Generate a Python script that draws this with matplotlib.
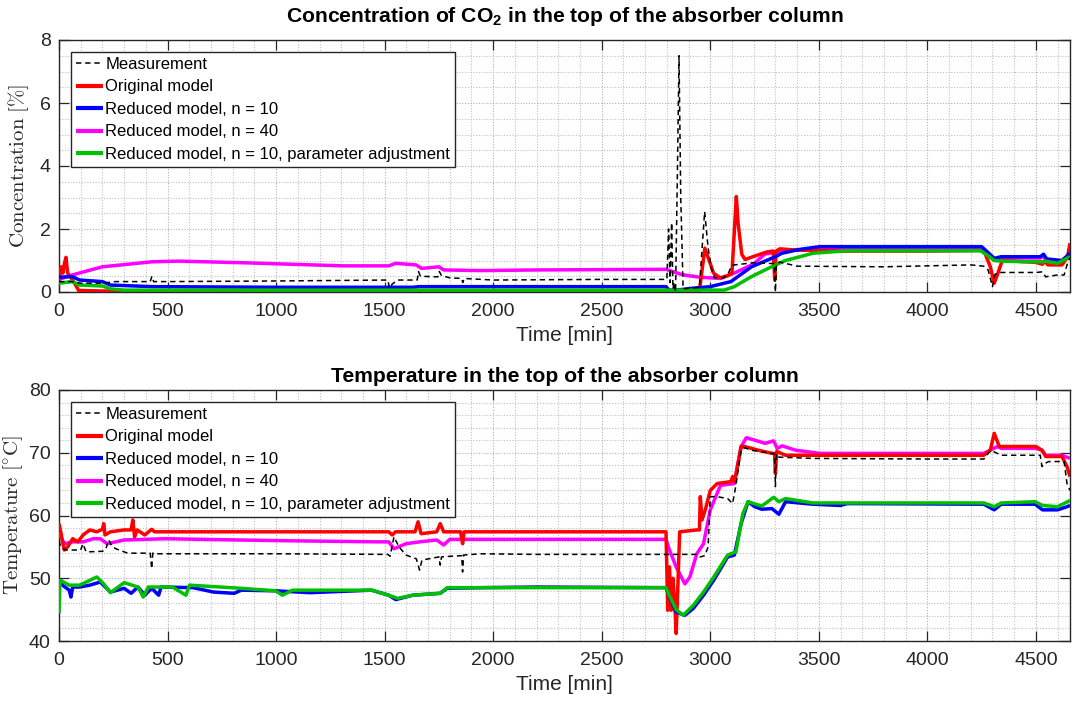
import numpy as np
import matplotlib
matplotlib.use("Agg")
import matplotlib.pyplot as plt
from matplotlib.ticker import MultipleLocator

plt.rcParams['font.family'] = ['Liberation Sans', 'DejaVu Sans']
plt.rcParams['mathtext.fontset'] = 'custom'
plt.rcParams['mathtext.rm'] = 'Liberation Sans'
plt.rcParams['mathtext.bf'] = 'Liberation Sans:bold'

# ---- CO2 concentration in the top of the absorber [%] : (time [min], value)
co2_measurement = [
    (0, 0.33), (60, 0.33), (100, 0.28), (200, 0.28), (260, 0.33), (420, 0.33), (428, 0.5),
    (436, 0.33), (500, 0.33), (1000, 0.35), (1515, 0.38), (1522, 0.12), (1535, 0.25),
    (1560, 0.38), (1650, 0.38), (1656, 0.65), (1665, 0.5), (1745, 0.48), (1752, 0.65),
    (1762, 0.52), (1800, 0.45), (1855, 0.43), (1860, 0.3), (1866, 0.43), (2000, 0.38),
    (2500, 0.4), (2800, 0.4), (2808, 2.0), (2815, 0.3), (2822, 2.2), (2828, 0.1),
    (2834, 0.3), (2840, 0.0), (2848, 3.5), (2856, 7.5), (2864, 3.0), (2875, 0.1),
    (2950, 0.15), (2974, 2.55), (2990, 1.4), (3005, 0.75), (3020, 0.45), (3060, 0.45),
    (3080, 0.55), (3100, 0.85), (3200, 0.93), (3295, 0.9), (3300, 0.0), (3305, 0.9),
    (3320, 0.95), (3400, 0.82), (3800, 0.8), (4200, 0.86), (4260, 0.82), (4280, 0.7),
    (4300, 0.17), (4310, 0.55), (4330, 0.62), (4500, 0.62), (4530, 0.64), (4545, 0.48),
    (4560, 0.5), (4600, 0.54), (4630, 0.54), (4645, 0.9), (4657, 1.1)]
co2_original = [
    (0, 0.35), (10, 0.8), (18, 0.6), (25, 0.9), (32, 1.1), (40, 0.6), (55, 0.45), (70, 0.3),
    (90, 0.05), (200, 0.03), (1000, 0.03), (2000, 0.03), (2800, 0.03), (2950, 0.03),
    (2975, 1.39), (3000, 0.9), (3015, 0.6), (3045, 0.45), (3080, 0.52), (3100, 0.6),
    (3113, 2.2), (3120, 3.03), (3128, 2.2), (3145, 1.2), (3160, 1.03), (3200, 1.13),
    (3260, 1.27), (3290, 1.3), (3297, 0.38), (3303, 1.3), (3320, 1.37), (3400, 1.33),
    (3600, 1.3), (4000, 1.3), (4260, 1.32), (4290, 0.8), (4308, 0.28), (4325, 0.6),
    (4345, 1.0), (4450, 0.96), (4500, 0.94), (4530, 0.88), (4540, 0.98), (4555, 0.86),
    (4620, 0.86), (4645, 1.1), (4657, 1.55)]
co2_reduced10 = [
    (0, 0.47), (60, 0.49), (95, 0.38), (200, 0.33), (237, 0.22), (430, 0.17), (1000, 0.15),
    (1630, 0.15), (1660, 0.17), (2796, 0.17), (2810, 0.06), (2845, 0.06), (2920, 0.12),
    (3000, 0.17), (3095, 0.33), (3190, 0.8), (3300, 1.12), (3330, 1.23), (3410, 1.35),
    (3505, 1.44), (4000, 1.44), (4250, 1.44), (4280, 1.25), (4308, 1.07), (4340, 1.12),
    (4520, 1.12), (4535, 1.2), (4550, 1.05), (4620, 1.0), (4657, 1.23)]
co2_reduced40 = [
    (0, 0.4), (60, 0.54), (200, 0.8), (430, 0.96), (550, 0.98), (840, 0.93), (1310, 0.83),
    (1520, 0.83), (1550, 0.91), (1645, 0.86), (1670, 0.75), (1750, 0.8), (1772, 0.7),
    (1945, 0.68), (2200, 0.7), (2796, 0.72), (2870, 0.55), (2950, 0.47), (3048, 0.43),
    (3110, 0.6), (3200, 0.89), (3250, 1.2), (3330, 1.3), (3410, 1.34), (3505, 1.38),
    (4000, 1.38), (4250, 1.38), (4280, 1.2), (4308, 1.05), (4340, 1.08), (4520, 1.08),
    (4535, 1.12), (4550, 1.0), (4620, 0.95), (4657, 1.2)]
co2_reduced10_adj = [
    (0, 0.28), (60, 0.33), (95, 0.22), (200, 0.19), (237, 0.1), (300, 0.06), (1000, 0.06),
    (2800, 0.06), (3064, 0.06), (3111, 0.17), (3190, 0.49), (3300, 0.86), (3347, 1.0),
    (3473, 1.23), (3630, 1.31), (4245, 1.31), (4280, 1.15), (4308, 1.0), (4340, 0.98),
    (4460, 0.96), (4530, 0.96), (4545, 0.98), (4600, 0.91), (4657, 1.12)]

# ---- Temperature in the top of the absorber [degC] : (time [min], value)
temp_measurement = [
    (0, 56.0), (8, 55.0), (30, 54.5), (100, 54.5), (110, 55.5), (125, 54.2), (200, 54.3),
    (215, 54.6), (229, 56.1), (245, 55.0), (269, 54.6), (316, 54.0), (420, 54.0),
    (427, 51.5), (432, 54.0), (450, 53.9), (1000, 53.9), (1515, 53.8), (1525, 53.5),
    (1543, 56.6), (1566, 55.0), (1598, 53.7), (1646, 53.1), (1661, 51.3), (1672, 52.9),
    (1720, 53.2), (1750, 53.4), (1756, 52.1), (1762, 53.4), (1800, 53.5), (1855, 53.6),
    (1859, 51.0), (1864, 53.7), (1946, 53.9), (2200, 53.8), (2500, 53.8), (2940, 53.8),
    (2954, 53.4), (2975, 53.6), (2990, 55.0), (3000, 63.0), (3032, 63.0), (3080, 62.7),
    (3103, 61.9), (3118, 64.8), (3142, 70.4), (3158, 70.8), (3190, 70.4), (3284, 69.9),
    (3297, 69.8), (3300, 64.6), (3304, 69.8), (3316, 69.3), (3473, 69.1), (4000, 69.0),
    (4260, 69.0), (4292, 70.4), (4340, 69.6), (4497, 69.6), (4520, 69.6), (4528, 67.8),
    (4540, 68.3), (4560, 68.6), (4630, 68.6), (4643, 65.1), (4657, 64.0)]
temp_original = [
    (0, 58.7), (8, 57.4), (24, 54.5), (40, 55.0), (63, 56.3), (87, 55.8), (111, 56.9),
    (142, 57.7), (174, 57.4), (200, 57.8), (206, 58.7), (212, 56.9), (237, 57.4),
    (300, 57.7), (332, 57.7), (340, 59.3), (348, 56.6), (360, 57.7), (395, 56.9),
    (427, 57.8), (440, 57.4), (1000, 57.4), (1519, 57.4), (1535, 56.9), (1550, 57.4),
    (1640, 57.4), (1654, 59.0), (1668, 57.1), (1740, 57.4), (1756, 58.7), (1772, 57.4),
    (1850, 57.4), (1859, 55.5), (1866, 57.4), (2000, 57.4), (2796, 57.4), (2804, 44.9),
    (2812, 51.8), (2820, 44.9), (2828, 50.0), (2836, 46.0), (2843, 41.2), (2851, 49.1),
    (2859, 57.4), (2938, 57.7), (2950, 57.7), (2954, 63.0), (2962, 59.3), (2977, 60.9),
    (3000, 64.0), (3032, 65.1), (3095, 65.4), (3103, 66.2), (3112, 65.4), (3142, 71.0),
    (3158, 71.0), (3221, 70.4), (3284, 69.9), (3296, 69.9), (3300, 66.7), (3306, 70.2),
    (3347, 69.6), (4260, 69.6), (4290, 70.4), (4308, 73.1), (4331, 71.0), (4500, 71.0),
    (4528, 70.4), (4545, 69.4), (4620, 69.4), (4643, 67.8), (4657, 66.2)]
temp_reduced10 = [
    (0, 49.7), (8, 49.7), (16, 48.9), (47, 48.1), (55, 47.0), (63, 48.6), (95, 48.6),
    (142, 48.9), (190, 49.4), (237, 47.8), (300, 48.4), (332, 47.6), (364, 48.6),
    (395, 47.3), (427, 48.4), (459, 47.3), (470, 48.6), (617, 48.5), (712, 47.8),
    (807, 47.6), (840, 48.1), (997, 48.0), (1155, 47.7), (1440, 48.1), (1519, 47.3),
    (1551, 46.6), (1630, 47.3), (1756, 47.6), (1788, 48.4), (1946, 48.5), (2199, 48.6),
    (2796, 48.5), (2812, 47.0), (2843, 44.6), (2883, 44.1), (2922, 45.2), (2969, 47.3),
    (3016, 49.7), (3080, 53.4), (3111, 53.7), (3142, 58.7), (3174, 62.2), (3205, 61.4),
    (3237, 61.0), (3284, 61.1), (3316, 60.2), (3347, 62.2), (3473, 61.8), (3599, 61.6),
    (3630, 61.9), (4260, 61.8), (4308, 60.9), (4340, 61.8), (4497, 61.8), (4530, 60.9),
    (4600, 60.9), (4643, 61.4), (4657, 61.6)]
temp_reduced40 = [
    (0, 58.5), (8, 56.6), (24, 55.5), (63, 55.8), (111, 55.8), (158, 56.3), (190, 56.3),
    (222, 55.5), (300, 56.1), (490, 56.3), (997, 56.0), (1472, 55.8), (1519, 55.8),
    (1543, 54.7), (1598, 55.5), (1661, 55.8), (1740, 56.1), (1772, 55.3), (1800, 56.2),
    (2199, 56.2), (2796, 56.2), (2812, 54.5), (2843, 51.8), (2883, 49.1), (2906, 50.2),
    (2938, 53.9), (2969, 55.5), (3000, 60.9), (3047, 64.8), (3111, 65.1), (3142, 71.0),
    (3166, 72.4), (3205, 72.0), (3253, 71.5), (3292, 71.9), (3308, 70.7), (3331, 71.1),
    (3394, 70.4), (3505, 69.9), (4260, 69.9), (4323, 71.0), (4340, 70.7), (4497, 70.7),
    (4528, 70.4), (4545, 69.6), (4620, 69.6), (4657, 69.1)]
temp_reduced10_adj = [
    (0, 44.4), (5, 49.7), (47, 48.9), (95, 48.9), (174, 50.2), (206, 49.1), (237, 47.7),
    (300, 49.3), (364, 48.6), (388, 47.0), (411, 48.6), (522, 48.6), (585, 47.3),
    (601, 48.9), (839, 48.4), (997, 48.0), (1029, 47.3), (1076, 48.1), (1440, 48.1),
    (1519, 47.3), (1559, 46.8), (1630, 47.3), (1756, 47.6), (1788, 48.5), (2199, 48.5),
    (2796, 48.5), (2812, 47.2), (2843, 45.0), (2875, 44.1), (2922, 45.7), (2969, 47.8),
    (3016, 50.2), (3080, 53.7), (3118, 54.2), (3150, 60.3), (3174, 62.2), (3237, 61.5),
    (3292, 62.9), (3316, 62.2), (3347, 62.7), (3473, 62.0), (4260, 62.0), (4308, 61.4),
    (4340, 62.0), (4497, 62.2), (4530, 61.6), (4600, 61.4), (4657, 62.4)]

labels = ["Measurement", "Original model", "Reduced model, n = 10",
          "Reduced model, n = 40", "Reduced model, n = 10, parameter adjustment"]
colors = ["black", "#ff0000", "#0000ff", "#ff00ff", "#00c000"]
t_max = 4657

DARK = "#262626"
fig = plt.figure(figsize=(10.76, 7.04), dpi=100)
ax1 = fig.add_axes([59 / 1076, 1 - 292 / 704, 1011 / 1076, 252 / 704])
ax2 = fig.add_axes([59 / 1076, 1 - 641 / 704, 1011 / 1076, 251 / 704])


def draw(ax, series, ylim, ymajor, yminor, ylabel, ylabel_x, title, title_pad):
    for i, (data, lab, col) in enumerate(zip(series, labels, colors)):
        t, v = np.array(data, dtype=float).T
        if i == 0:
            ax.plot(t, v, ls=(0, (3.5, 2.5)), color=col, lw=1.1, label=lab, zorder=6)
        else:
            z = {1: 4, 2: 4.5, 3: 3.5, 4: 5}[i]
            ax.plot(t, v, color=col, lw=2.5, label=lab, zorder=z,
                    solid_joinstyle='round', solid_capstyle='butt')
    ax.set_xlim(0, t_max)
    ax.set_ylim(*ylim)
    ax.xaxis.set_major_locator(MultipleLocator(500))
    ax.xaxis.set_minor_locator(MultipleLocator(100))
    ax.yaxis.set_major_locator(MultipleLocator(ymajor))
    ax.yaxis.set_minor_locator(MultipleLocator(yminor))
    ax.grid(True, which='major', color='#b0b0b0', ls=(0, (1, 1.5)), lw=0.8, zorder=0)
    ax.grid(True, which='minor', color='#c0c0c0', ls=(0, (1, 1.5)), lw=0.8, zorder=0)
    ax.set_axisbelow(True)
    ax.tick_params(which='major', direction='in', length=7, width=0.9, top=True,
                   right=True, labelsize=14, colors=DARK, pad=6)
    ax.tick_params(axis='x', which='major', pad=8)
    ax.tick_params(which='minor', length=0, top=True, right=True)
    for s in ax.spines.values():
        s.set_color(DARK)
        s.set_linewidth(1.0)
    ax.set_xlabel("Time [min]", fontsize=15, color=DARK, labelpad=4)
    ax.set_ylabel(ylabel, fontsize=15, color=DARK, math_fontfamily='cm')
    ax.yaxis.set_label_coords(ylabel_x, 0.5)
    ax.set_title(title, fontsize=15.2, fontweight='bold', pad=title_pad)
    leg = ax.legend(loc='upper left', bbox_to_anchor=(12 / 1011, 1 - 12 / 252),
                    fontsize=12, handlelength=1.6, handletextpad=0.15,
                    labelspacing=0.45, borderpad=0.3, borderaxespad=0,
                    fancybox=False, framealpha=1, edgecolor=DARK)
    leg.get_frame().set_linewidth(1.0)
    for h in leg.get_lines()[1:]:
        h.set_linewidth(3.0)
    leg.set_zorder(10)


draw(ax1, [co2_measurement, co2_original, co2_reduced10, co2_reduced40, co2_reduced10_adj],
     (0, 8), 2, 0.5, r'$\mathrm{Concentration}\ [\%]$', (31 - 59) / 1011,
     r'Concentration of CO$_\mathbf{2}$ in the top of the absorber column', 13)
draw(ax2, [temp_measurement, temp_original, temp_reduced10, temp_reduced40, temp_reduced10_adj],
     (40, 80), 10, 2, r'$\mathrm{Temperature}\ [{}^{\circ}\mathrm{C}]$', (25 - 59) / 1011,
     'Temperature in the top of the absorber column', 6)

fig.savefig("out.png", dpi=100)
